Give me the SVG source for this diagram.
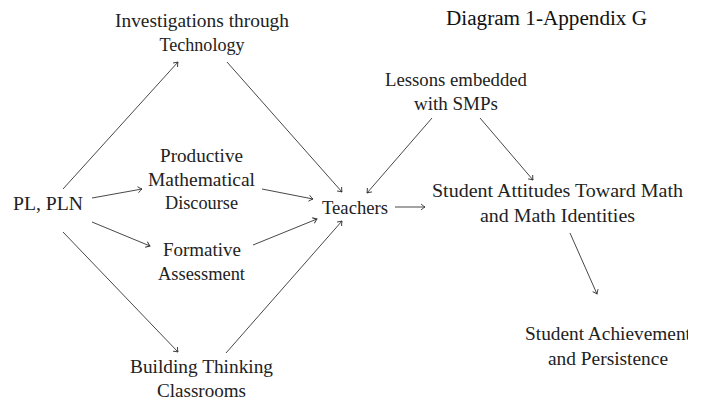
<svg xmlns="http://www.w3.org/2000/svg" width="705" height="402" viewBox="0 0 705 402">
  <style>
    .lbl { font-family: "Liberation Serif", "DejaVu Serif", serif; font-size: 19px; fill: #222; text-anchor: middle; lengthAdjust: spacingAndGlyphs; }
    .title { font-family: "Liberation Serif", serif; font-size: 20px; fill: #111; }
    .edge { stroke: #333; stroke-width: 0.9; fill: none; marker-end: url(#tip); }
  </style>
  <defs>
    <marker id="tip" viewBox="-5 -4 6 8" refX="0" refY="0" markerWidth="6" markerHeight="8" markerUnits="userSpaceOnUse" orient="auto">
      <path d="M-4,-3 Q-1.5,-0.8 0,0 Q-1.5,0.8 -4,3" fill="none" stroke="#333" stroke-width="0.9"/>
    </marker>
    <clipPath id="edgeClip"><rect x="0" y="0" width="688" height="402"/></clipPath>
  </defs>
  <rect width="705" height="402" fill="#fff"/>

  <text class="title" x="446" y="25" textLength="201" lengthAdjust="spacingAndGlyphs">Diagram 1-Appendix G</text>

  <g id="connectors">
    <line class="edge" x1="63" y1="189" x2="178" y2="62"/>
    <line class="edge" x1="227" y1="62" x2="342" y2="192"/>
    <line class="edge" x1="92" y1="198" x2="142" y2="189"/>
    <line class="edge" x1="262" y1="189" x2="313" y2="199"/>
    <line class="edge" x1="92" y1="222" x2="150" y2="246"/>
    <line class="edge" x1="253" y1="245" x2="317" y2="219"/>
    <line class="edge" x1="63" y1="232" x2="178" y2="352"/>
    <line class="edge" x1="226" y1="353" x2="342" y2="221"/>
    <line class="edge" x1="432" y1="118" x2="367" y2="193"/>
    <line class="edge" x1="480" y1="118" x2="533" y2="180"/>
    <line class="edge" x1="395" y1="207" x2="425" y2="207"/>
    <line class="edge" x1="570" y1="233" x2="597" y2="294"/>
  </g>

  <g id="pl-pln"><text class="lbl" x="48" y="210" textLength="70" lengthAdjust="spacingAndGlyphs">PL, PLN</text></g>
  <g id="investigations">
    <text class="lbl" x="202" y="27" textLength="174" lengthAdjust="spacingAndGlyphs">Investigations through</text>
    <text class="lbl" x="202" y="51" textLength="85" lengthAdjust="spacingAndGlyphs">Technology</text>
  </g>
  <g id="productive">
    <text class="lbl" x="201.5" y="162" textLength="83" lengthAdjust="spacingAndGlyphs">Productive</text>
    <text class="lbl" x="201.5" y="186" textLength="107" lengthAdjust="spacingAndGlyphs">Mathematical</text>
    <text class="lbl" x="201.5" y="209" textLength="73" lengthAdjust="spacingAndGlyphs">Discourse</text>
  </g>
  <g id="formative">
    <text class="lbl" x="202" y="256" textLength="78" lengthAdjust="spacingAndGlyphs">Formative</text>
    <text class="lbl" x="201.5" y="280" textLength="87" lengthAdjust="spacingAndGlyphs">Assessment</text>
  </g>
  <g id="building">
    <text class="lbl" x="201.5" y="373" textLength="143" lengthAdjust="spacingAndGlyphs">Building Thinking</text>
    <text class="lbl" x="201.5" y="397" textLength="89" lengthAdjust="spacingAndGlyphs">Classrooms</text>
  </g>
  <g id="teachers"><text class="lbl" x="355" y="214" textLength="66" lengthAdjust="spacingAndGlyphs">Teachers</text></g>
  <g id="lessons">
    <text class="lbl" x="456" y="86" textLength="142" lengthAdjust="spacingAndGlyphs">Lessons embedded</text>
    <text class="lbl" x="456" y="110" textLength="84" lengthAdjust="spacingAndGlyphs">with SMPs</text>
  </g>
  <g id="attitudes">
    <text class="lbl" x="557.5" y="197" textLength="251" lengthAdjust="spacingAndGlyphs">Student Attitudes Toward Math</text>
    <text class="lbl" x="557.5" y="222" textLength="155" lengthAdjust="spacingAndGlyphs">and Math Identities</text>
  </g>
  <g id="achievement" clip-path="url(#edgeClip)">
    <text class="lbl" x="608" y="340" textLength="166" lengthAdjust="spacingAndGlyphs">Student Achievement</text>
    <text class="lbl" x="608" y="365" textLength="120" lengthAdjust="spacingAndGlyphs">and Persistence</text>
  </g>
</svg>
